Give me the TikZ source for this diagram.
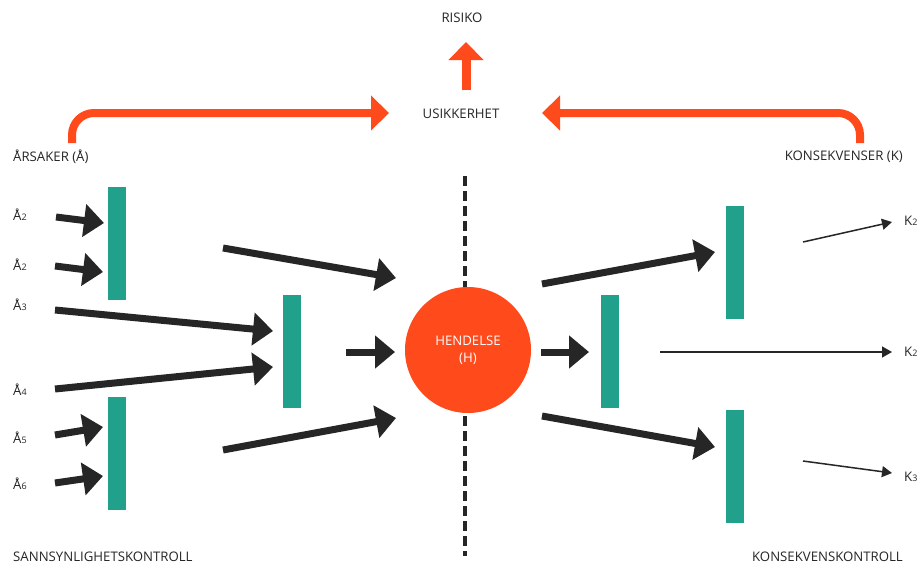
\documentclass[tikz,border=0pt]{standalone}
\usepackage{fontspec}
\setmainfont{Open Sans}
\usetikzlibrary{arrows.meta}
\definecolor{barteal}{HTML}{21A08B}
\definecolor{hot}{HTML}{FF4A1C}
\definecolor{ink}{HTML}{262626}
\newcommand{\sub}[1]{{\fontsize{9}{9}\selectfont #1}}
\tikzset{
  bar/.style={fill=barteal, draw=none, inner sep=0pt, minimum width=18pt, minimum height=113pt},
  heavy/.style={draw=ink, line width=7pt, -{Triangle[length=20pt,width=32pt]}},
  light/.style={draw=ink, line width=1.5pt, -{Triangle[length=10pt,width=11pt]}},
  lbl/.style={font=\fontsize{13.2}{15}\selectfont, text=ink, inner sep=0pt},
  flow/.style={draw=hot, line width=8pt, rounded corners=22pt, -{Triangle[length=18pt,width=34pt]}},
}
\begin{document}
\begin{tikzpicture}[x=1pt,y=-1pt]
\useasboundingbox[fill=white] (0,0) rectangle (924,570);

% dashed divider behind the event
\coordinate (dtop) at (465,176);
\coordinate (dbot) at (465,556);
\draw[ink, line width=4pt, dash pattern=on 10pt off 5pt] (dtop) -- (dbot);

% event
\node[circle, fill=hot, minimum size=126pt, inner sep=0pt, text=white, align=center,
      font=\fontsize{13.2}{17}\selectfont] (H) at (468,350) {HENDELSE\\(H)};

% barriers
\node[bar] (b1) at (117,243.5) {};
\node[bar] (b2) at (117,453) {};
\node[bar] (b3) at (292,351.5) {};
\node[bar] (b4) at (610,351.5) {};
\node[bar] (b5) at (735,262.5) {};
\node[bar] (b6) at (735,466.5) {};

% labels
\node[lbl, anchor=west] (a1) at (13,215) {Å\sub{2}};
\node[lbl, anchor=west] (a2) at (13,265) {Å\sub{2}};
\node[lbl, anchor=west] (a3) at (13,305) {Å\sub{3}};
\node[lbl, anchor=west] (a4) at (13,390) {Å\sub{4}};
\node[lbl, anchor=west] (a5) at (13,438) {Å\sub{5}};
\node[lbl, anchor=west] (a6) at (13,484) {Å\sub{6}};
\node[lbl, anchor=west] (k1) at (904,221) {K\sub{2}};
\node[lbl, anchor=west] (k2) at (904,352) {K\sub{2}};
\node[lbl, anchor=west] (k3) at (904,477) {K\sub{3}};
\node[lbl, anchor=west] (cause) at (13,157) {ÅRSAKER (Å)};
\node[lbl, anchor=east] (cons) at (903,157) {KONSEKVENSER (K)};
\node[lbl] (unc) at (461,114) {USIKKERHET};
\node[lbl] (risk) at (462,18) {RISIKO};
\node[lbl, anchor=west] (pc) at (13,557) {SANNSYNLIGHETSKONTROLL};
\node[lbl, anchor=east] (cc) at (903,557) {KONSEKVENSKONTROLL};

% heavy arrows, causes side
\coordinate (s1) at (56,217);  \coordinate (t1) at (104,223);
\coordinate (s2) at (55,266);  \coordinate (t2) at (103,272);
\coordinate (s3) at (55,310);  \coordinate (t3) at (273,331);
\coordinate (s4) at (55,389);  \coordinate (t4) at (273,367);
\coordinate (s5) at (55,435);  \coordinate (t5) at (103,427);
\coordinate (s6) at (55,483);  \coordinate (t6) at (103,476);
\draw[heavy] (s1) -- (t1);
\draw[heavy] (s2) -- (t2);
\draw[heavy] (s3) -- (t3);
\draw[heavy] (s4) -- (t4);
\draw[heavy] (s5) -- (t5);
\draw[heavy] (s6) -- (t6);

% heavy arrows into the event
\coordinate (u1) at (223,248); \coordinate (v1) at (396,278);
\coordinate (u2) at (346,352); \coordinate (v2) at (395,352);
\coordinate (u3) at (223,450); \coordinate (v3) at (396,418);
\draw[heavy] (u1) -- (v1);
\draw[heavy] (u2) -- (v2);
\draw[heavy] (u3) -- (v3);

% heavy arrows out of the event
\coordinate (p1) at (542,284); \coordinate (q1) at (715,252);
\coordinate (p2) at (541,352); \coordinate (q2) at (589,352);
\coordinate (p3) at (542,416); \coordinate (q3) at (715,447);
\draw[heavy] (p1) -- (q1);
\draw[heavy] (p2) -- (q2);
\draw[heavy] (p3) -- (q3);

% thin arrows to consequences
\coordinate (m1) at (803,242); \coordinate (n1) at (892,222);
\coordinate (m2) at (660,352); \coordinate (n2) at (892,352);
\coordinate (m3) at (803,461); \coordinate (n3) at (892,473);
\draw[light] (m1) -- (n1);
\draw[light] (m2) -- (n2);
\draw[light] (m3) -- (n3);

% uncertainty flows
\coordinate (fl) at (72,143);  \coordinate (fltip) at (389,113);
\coordinate (fr) at (860,143); \coordinate (frtip) at (542,113);
\draw[flow] (fl) |- (fltip);
\draw[flow] (fr) |- (frtip);
\coordinate (up0) at (466,90); \coordinate (up1) at (466,42);
\draw[draw=hot, line width=9pt, -{Triangle[length=18pt,width=34pt]}] (up0) -- (up1);
\end{tikzpicture}
\end{document}
